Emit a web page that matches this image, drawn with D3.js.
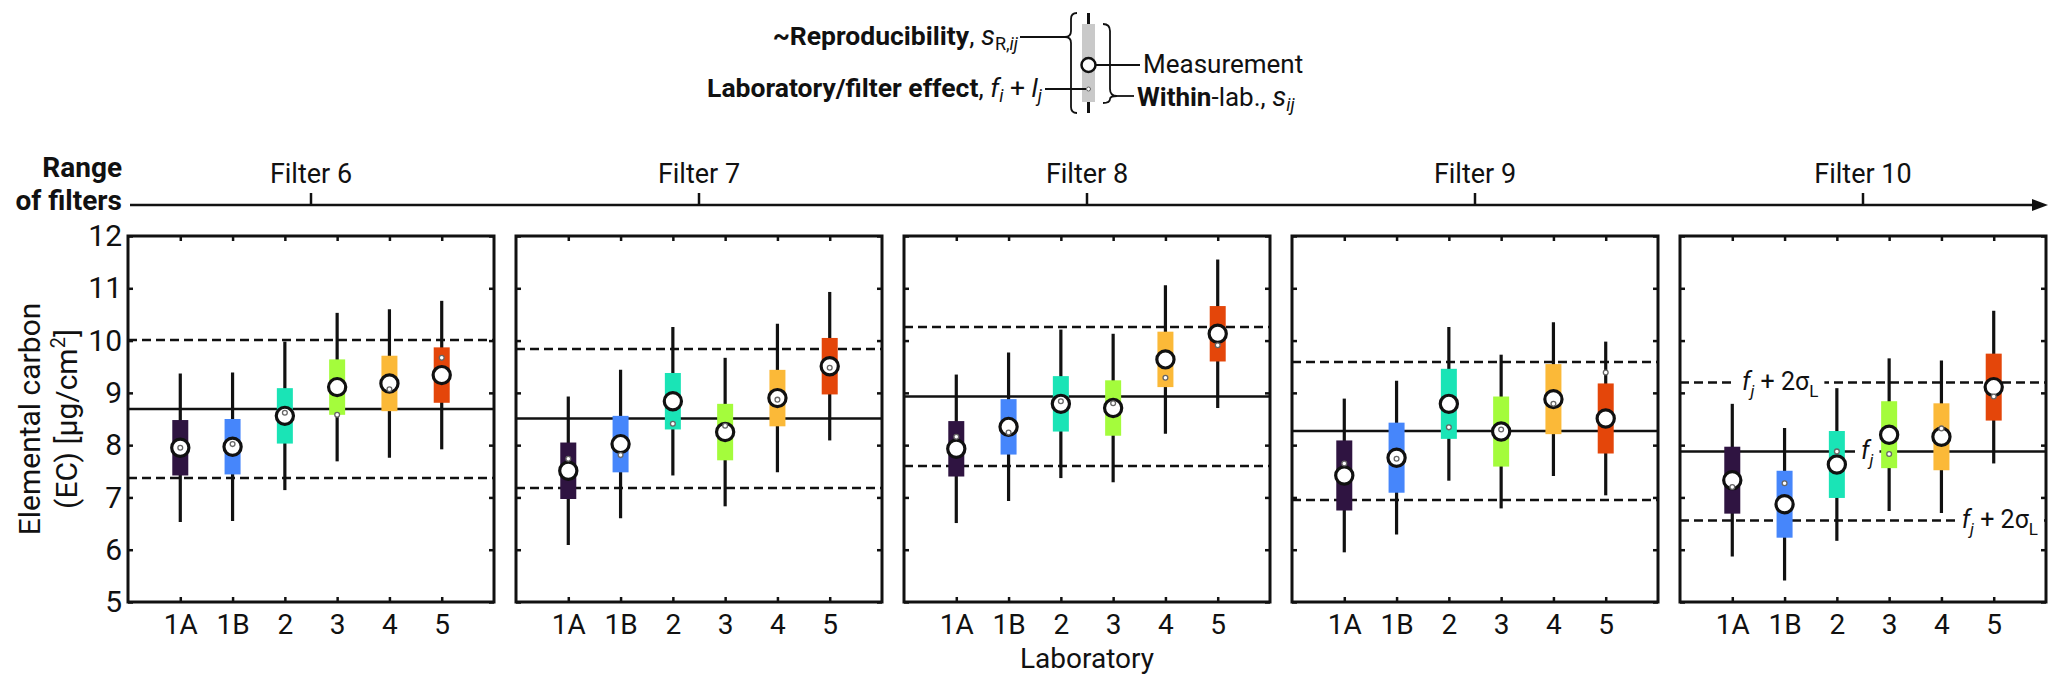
<!DOCTYPE html>
<html>
<head>
<meta charset="utf-8">
<script src="https://cdn.jsdelivr.net/npm/d3@7"></script>
<style>
    body { margin: 0; background: #fff; }
    svg text { font-family: Roboto, "Noto Sans", sans-serif; fill: #111; }
</style>
</head>
<body>
<svg id="chart" width="2067" height="690"></svg>
<script>
var labs = ["1A", "1B", "2", "3", "4", "5"];
var labColors = ["#2f1441", "#4686fb", "#1ae4b6", "#a4fc3c", "#fbb938", "#e4460a"];
var filters = ["Filter 6", "Filter 7", "Filter 8", "Filter 9", "Filter 10"];
var yTicks = [5, 6, 7, 8, 9, 10, 11, 12];

// filter mean f_j and its +-2 sigma_L band
var filterMean = [8.69, 8.51, 8.93, 8.27, 7.88];
var filterSpread = [1.32, 1.33, 1.33, 1.32, 1.32];
// half heights of the within-lab box and the reproducibility whisker
var withinHalf = [0.53, 0.54, 0.53, 0.67, 0.64];
var reproHalf = [1.42, 1.42, 1.42, 1.47, 1.46];

var measurement = [
    [7.95, 7.97, 8.56, 9.11, 9.18, 9.34],
    [7.51, 8.02, 8.84, 8.25, 8.90, 9.51],
    [7.93, 8.35, 8.79, 8.71, 9.64, 10.13],
    [7.42, 7.76, 8.79, 8.26, 8.88, 8.51],
    [7.33, 6.87, 7.63, 8.20, 8.16, 9.11]
];
var labEffect = [
    [7.95, 8.02, 8.62, 8.58, 9.07, 9.67],
    [7.74, 7.81, 8.41, 8.37, 8.87, 9.48],
    [8.16, 8.24, 8.84, 8.80, 9.29, 9.91],
    [7.65, 7.74, 8.34, 8.30, 8.79, 9.39],
    [7.20, 7.27, 7.88, 7.83, 8.32, 8.93]
];

var svg = d3.select("#chart");
var panelSize = 366;
var panelGap = 22;
var panelLeft = 128;
var panelTop = 236;

var x = d3.scaleLinear().domain([0, 7]).range([0, panelSize]);
var y = d3.scaleLinear().domain([5, 12]).range([panelSize, 0]);
var panelX = d3.scaleLinear().domain([0, 1]).range([panelLeft, panelLeft + panelSize + panelGap]);

// append tspans; s = baseline shift (px, down positive)
function richText(sel, parts) {
    var cur = 0;
    parts.forEach(function(p) {
        var t = sel.append("tspan").text(p.t);
        if (p.b) { t.attr("font-weight", "bold"); }
        if (p.i) { t.attr("font-style", "italic"); }
        if (p.size) { t.attr("font-size", p.size); }
        var s = p.s || 0;
        if (s !== cur) { t.attr("dy", s - cur); cur = s; }
    });
    return sel;
}

function styleAxis(g) {
    g.select(".domain").remove();
    g.selectAll(".tick line").attr("stroke", "#111").attr("stroke-width", 2.5);
}

// range of filters arrow
var arrowY = 205;
var arrowEnd = panelX(filters.length - 1) + panelSize + 2;
svg.append("line")
    .attr("x1", 130).attr("x2", arrowEnd - 12)
    .attr("y1", arrowY).attr("y2", arrowY)
    .attr("stroke", "#111").attr("stroke-width", 2.5);
svg.append("path")
    .attr("d", "M" + arrowEnd + "," + arrowY + " l-16,-6 l0,12 z")
    .attr("fill", "#111");
svg.append("text").attr("x", 122).attr("y", 177).attr("text-anchor", "end")
    .attr("font-size", 28).attr("font-weight", "bold").text("Range");
svg.append("text").attr("x", 122).attr("y", 210).attr("text-anchor", "end")
    .attr("font-size", 28).attr("font-weight", "bold").text("of filters");

filters.forEach(function(name, i) {
    var cx = panelX(i) + panelSize / 2;
    svg.append("line")
        .attr("x1", cx).attr("x2", cx)
        .attr("y1", arrowY - 12).attr("y2", arrowY)
        .attr("stroke", "#111").attr("stroke-width", 2.5);
    svg.append("text").attr("x", cx).attr("y", 183).attr("text-anchor", "middle")
        .attr("font-size", 27).text(name);
});

filters.forEach(function(name, i) {
    var g = svg.append("g")
        .attr("transform", "translate(" + panelX(i) + "," + panelTop + ")");

    var rows = labs.map(function(lab, k) {
        return {
            lab: lab,
            k: k,
            m: measurement[i][k],
            e: labEffect[i][k],
            w: withinHalf[i],
            r: reproHalf[i]
        };
    });

    // f_j and f_j +- 2 sigma_L
    g.append("line")
        .attr("class", "mean-line")
        .attr("x1", 0).attr("x2", panelSize)
        .attr("y1", y(filterMean[i])).attr("y2", y(filterMean[i]))
        .attr("stroke", "#111").attr("stroke-width", 2.5);
    [1, -1].forEach(function(sign) {
        var v = filterMean[i] + sign * filterSpread[i];
        g.append("line")
            .attr("x1", 0).attr("x2", panelSize)
            .attr("y1", y(v)).attr("y2", y(v))
            .attr("stroke", "#111").attr("stroke-width", 2.5)
            .attr("stroke-dasharray", "9,5");
    });

    g.selectAll(".whisker").data(rows).enter().append("line")
        .attr("class", "whisker")
        .attr("x1", function(d) { return x(d.k + 1); })
        .attr("x2", function(d) { return x(d.k + 1); })
        .attr("y1", function(d) { return y(d.m + d.r); })
        .attr("y2", function(d) { return y(d.m - d.r); })
        .attr("stroke", "#111").attr("stroke-width", 3.2);

    g.selectAll(".within").data(rows).enter().append("rect")
        .attr("class", "within")
        .attr("x", function(d) { return x(d.k + 1) - 8; })
        .attr("width", 16)
        .attr("y", function(d) { return y(d.m + d.w); })
        .attr("height", function(d) { return y(d.m - d.w) - y(d.m + d.w); })
        .attr("fill", function(d) { return labColors[d.k]; });

    g.selectAll(".meas").data(rows).enter().append("circle")
        .attr("class", "meas")
        .attr("cx", function(d) { return x(d.k + 1); })
        .attr("cy", function(d) { return y(d.m); })
        .attr("r", 8.6)
        .attr("fill", "#fff").attr("stroke", "#111").attr("stroke-width", 3.2);

    g.selectAll(".effect").data(rows).enter().append("circle")
        .attr("class", "effect")
        .attr("cx", function(d) { return x(d.k + 1); })
        .attr("cy", function(d) { return y(d.e); })
        .attr("r", 2.4)
        .attr("fill", "#fff").attr("stroke", "#666").attr("stroke-width", 1.3);

    // axes with inward ticks on all four sides
    var bottom = g.append("g").attr("transform", "translate(0," + panelSize + ")")
        .call(d3.axisBottom(x).tickValues([1, 2, 3, 4, 5, 6])
            .tickFormat(function(v) { return labs[v - 1]; })
            .tickSizeInner(-5).tickSizeOuter(0).tickPadding(12));
    bottom.selectAll("text").attr("font-size", 28).attr("fill", "#111")
        .style("font-family", "Roboto, sans-serif");
    styleAxis(bottom);

    var topAxis = g.append("g")
        .call(d3.axisTop(x).tickValues([1, 2, 3, 4, 5, 6]).tickFormat("")
            .tickSizeInner(-5).tickSizeOuter(0));
    styleAxis(topAxis);

    var leftAxis = g.append("g")
        .call(d3.axisLeft(y).tickValues(yTicks)
            .tickFormat(i === 0 ? d3.format("d") : "")
            .tickSizeInner(-5).tickSizeOuter(0).tickPadding(6));
    leftAxis.selectAll("text").attr("font-size", 30).attr("fill", "#111")
        .style("font-family", "Roboto, sans-serif");
    styleAxis(leftAxis);

    var rightAxis = g.append("g").attr("transform", "translate(" + panelSize + ",0)")
        .call(d3.axisRight(y).tickValues(yTicks).tickFormat("")
            .tickSizeInner(-5).tickSizeOuter(0));
    styleAxis(rightAxis);

    g.append("rect")
        .attr("width", panelSize).attr("height", panelSize)
        .attr("fill", "none").attr("stroke", "#111").attr("stroke-width", 3);

    if (i === filters.length - 1) {
        var labelParts = [
            { t: "f", i: true },
            { t: "j", i: true, size: 17, s: 7 },
            { t: " + 2σ", s: 0 },
            { t: "L", size: 17, s: 7 }
        ];
        var notes = [
            { v: filterMean[i] + filterSpread[i], x: 62, anchor: "start", parts: labelParts },
            { v: filterMean[i] - filterSpread[i], x: 358, anchor: "end", parts: labelParts },
            { v: filterMean[i], x: 181, anchor: "start", parts: labelParts.slice(0, 2) }
        ];
        notes.forEach(function(n) {
            var bg = g.append("rect").attr("fill", "#fff");
            var t = g.append("text")
                .attr("x", n.x).attr("y", y(n.v) + 8)
                .attr("text-anchor", n.anchor)
                .attr("font-size", 25);
            richText(t, n.parts);
            var bb = t.node().getBBox();
            bg.attr("x", bb.x - 6).attr("width", bb.width + 12)
                .attr("y", y(n.v) - 3).attr("height", 6);
        });
    }
});

// y axis title
var yTitle = svg.append("text")
    .attr("transform", "translate(40," + (panelTop + panelSize / 2) + ") rotate(-90)")
    .attr("text-anchor", "middle").attr("font-size", 30);
yTitle.append("tspan").attr("x", 0).attr("dy", 0).text("Elemental carbon");
var yLine2 = yTitle.append("tspan").attr("x", 0).attr("dy", 37);
yLine2.append("tspan").text("(EC) [μg/cm");
yLine2.append("tspan").attr("font-size", 20).attr("dy", -12).text("2");
yLine2.append("tspan").attr("dy", 12).text("]");

svg.append("text")
    .attr("x", panelX(2) + panelSize / 2).attr("y", 668)
    .attr("text-anchor", "middle").attr("font-size", 28)
    .text("Laboratory");

// legend glyph
var lg = svg.append("g").attr("class", "legend");
var gx = 1088.5;
lg.append("line").attr("x1", gx).attr("x2", gx).attr("y1", 13).attr("y2", 113)
    .attr("stroke", "#111").attr("stroke-width", 3);
lg.append("rect").attr("x", gx - 6.5).attr("y", 24).attr("width", 13).attr("height", 78)
    .attr("fill", "#c9c9c9");
lg.append("circle").attr("cx", gx).attr("cy", 65).attr("r", 7)
    .attr("fill", "#fff").attr("stroke", "#111").attr("stroke-width", 2.5);
lg.append("circle").attr("cx", gx).attr("cy", 89).attr("r", 2)
    .attr("fill", "#fff").attr("stroke", "#666").attr("stroke-width", 1);

var braceStyle = function(p) {
    return p.attr("fill", "none").attr("stroke", "#111").attr("stroke-width", 1.8);
};
braceStyle(lg.append("path")
    .attr("d", "M1077,13 Q1071,13 1071,19 V31 Q1071,37 1065,37 Q1071,37 1071,43 V107 Q1071,113 1077,113"));
braceStyle(lg.append("path")
    .attr("d", "M1103,24 Q1110,24 1110,31 V89 Q1110,96 1117,96 Q1110,96 1110,99 Q1110,103 1103,103"));
braceStyle(lg.append("path").attr("d", "M1020,37 H1065"));
braceStyle(lg.append("path").attr("d", "M1045,89 H1086"));
braceStyle(lg.append("path").attr("d", "M1096,65 H1140"));
braceStyle(lg.append("path").attr("d", "M1117,96 H1134"));

richText(lg.append("text").attr("x", 1018).attr("y", 45).attr("text-anchor", "end").attr("font-size", 26.5), [
    { t: "~Reproducibility", b: true },
    { t: ", " },
    { t: "s", i: true, size: 28 },
    { t: "R,", size: 18, s: 5 },
    { t: "ij", i: true, size: 18, s: 5 }
]);
richText(lg.append("text").attr("x", 1042).attr("y", 97).attr("text-anchor", "end").attr("font-size", 26.5), [
    { t: "Laboratory/filter effect", b: true },
    { t: ", " },
    { t: "f", i: true },
    { t: "i", i: true, size: 18, s: 5 },
    { t: " + ", s: 0 },
    { t: "l", i: true },
    { t: "j", i: true, size: 18, s: 5 }
]);
lg.append("text").attr("x", 1143).attr("y", 73).attr("font-size", 26).text("Measurement");
richText(lg.append("text").attr("x", 1137).attr("y", 106).attr("font-size", 26), [
    { t: "Within", b: true },
    { t: "-lab., " },
    { t: "s", i: true, size: 28 },
    { t: "ij", i: true, size: 18, s: 5 }
]);
</script>
</body>
</html>
